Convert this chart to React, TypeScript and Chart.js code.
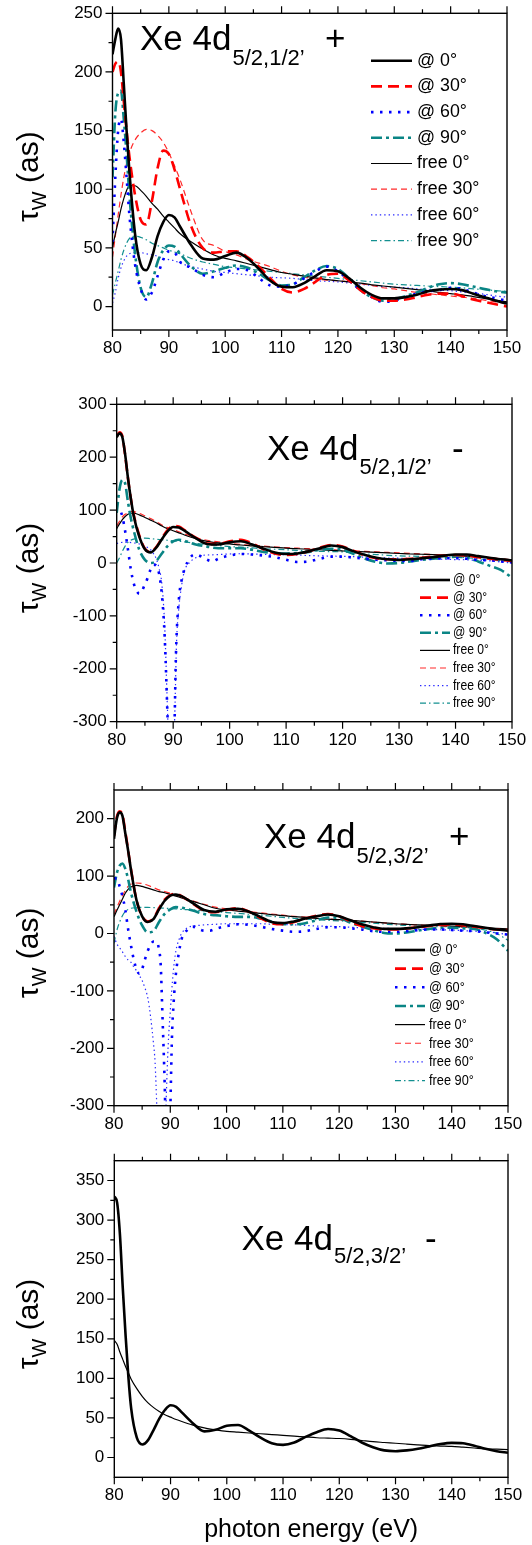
import React, { useEffect, useRef } from 'react';
import { Chart, registerables } from 'chart.js';

Chart.register(...registerables);

const SANS = "'Liberation Sans', Arial, Helvetica, sans-serif";
const NARROW = "'Liberation Sans Narrow', 'Arial Narrow', 'Liberation Sans', Arial, sans-serif";
const PAGE_W = 532;

// ---------- data ----------
// common photon-energy grid (eV)
const E = [80, 80.5, 81, 81.5, 82, 82.5, 83, 84, 85, 86, 87, 88, 89, 90, 91, 92, 94, 96, 98, 100, 102, 104, 106, 108, 110, 112, 114, 116, 118, 120, 122, 124, 126, 128, 130, 132, 134, 136, 138, 140, 142, 144, 146, 148, 150];
const xTickValues = [80, 90, 100, 110, 120, 130, 140, 150];
const xMinorValues = [85, 95, 105, 115, 125, 135, 145];

// panel 1: Xe 4d5/2,1/2', +
const p1At0 = [215, 228, 237, 228, 190, 150, 115, 62, 36, 31, 42, 60, 72, 78, 76, 68, 52, 41, 40, 43, 46, 41, 32, 22, 17, 16.5, 20, 26, 31, 30, 24, 16, 10, 7, 7, 8, 10, 13, 14.5, 15, 14, 11, 8, 5, 2.5];
const p1At30 = [200, 207, 209, 200, 175, 150, 128, 95, 74, 70, 90, 118, 133, 130, 117, 100, 68, 50, 46, 47, 47, 42, 34, 24, 15, 12, 15, 21, 27, 28, 22, 14, 8, 5, 5, 6, 8, 10, 11, 11, 9, 6, 4, 2, 0];
const p1At60 = [55, 110, 150, 160, 140, 110, 78, 36, 15, 6, 12, 26, 40, 47, 46, 38, 33, 27, 25, 29, 32, 31, 24, 18, 17, 19, 24, 30, 34, 30, 22, 14, 8, 4, 5, 8, 11, 13, 14, 16, 15, 12, 9, 7, 5];
const p1At90 = [110, 165, 182, 184, 160, 130, 95, 45, 16, 8, 20, 38, 48, 52, 51, 45, 34, 28, 30, 33, 35, 33, 28, 22, 18, 19, 25, 31, 34.5, 32, 24, 14, 8, 5, 6, 9, 12, 16, 19, 20, 19, 17, 15, 13, 12];
const p1Free0 = [50, 62, 72, 83, 92, 99, 103, 103, 99, 94, 88, 83, 77, 72, 67, 62, 55, 49, 44, 41, 39, 36.5, 34, 31.5, 29, 27.5, 26, 24.5, 23, 22, 21, 20, 18.5, 17.5, 16.5, 15.5, 14.5, 13.5, 12, 11, 10, 8.5, 7, 5.5, 4];
const p1Free30 = [42, 60, 78, 95, 110, 122, 131, 142, 148, 151, 150, 146, 140, 131, 120, 108, 80, 57, 52, 47, 44, 40, 37, 34, 30, 27, 25, 23.5, 22.5, 22, 21, 19.5, 18, 16, 15, 13.5, 12, 11, 10, 9, 8, 7, 5.5, 4, 2.5];
const p1Free60 = [3, 12, 24, 33, 39, 43, 45, 46, 46, 45, 44, 43, 41, 40, 39, 37, 34, 32, 30, 29, 28, 27, 26, 25, 24.5, 24, 23, 22, 21.5, 21, 20, 19, 18, 17, 16.5, 16, 15, 14.5, 14, 13.5, 12.5, 11.5, 10.5, 9, 8];
const p1Free90 = [10, 20, 30, 40, 48, 54, 58, 60, 59, 57, 54, 52, 50, 48, 46.5, 45, 41, 38, 36, 34, 33, 32, 31, 30, 29, 28, 27, 26, 25, 24, 23, 22, 21, 20, 19, 18.5, 18, 17.5, 17, 16.5, 16, 15, 14.5, 13.5, 13];

// panel 2: Xe 4d5/2,1/2', -
const p2At0 = [238, 245, 238, 205, 160, 122, 90, 50, 26, 20, 29, 45, 60, 68, 67, 61, 47, 36, 35, 39, 41, 35, 27, 20, 17, 18, 22, 28, 33, 30, 22, 15, 10, 7, 6, 7, 9, 11, 14, 16, 16, 13, 10, 7, 5];
const p2At30 = [240, 247, 240, 203, 160, 122, 92, 52, 27, 21, 30, 47, 62, 70, 69, 62, 48, 37, 36, 41, 44, 37, 26, 18, 15, 17, 22, 29, 34, 31, 23, 14, 9, 7, 7, 8, 10, 12, 14, 15, 14, 11, 8, 6, 4];
const p2E60 = [80.8, 81, 81.5, 82, 82.5, 83, 83.5, 84, 84.5, 85, 85.5, 86, 86.5, 87, 87.5, 88, 88.5, 89, 89.5, 90, 90.25, 90.5, 91, 91.5, 92, 93, 94, 95, 96, 97, 98, 100, 102, 104, 106, 108, 110, 112, 114, 116, 118, 120, 122, 124, 126, 128, 130, 132, 134, 136, 138, 140, 142, 144, 146, 148, 150];
const p2At60 = [95, 88, 60, 25, -12, -38, -52, -58, -52, -40, -28, -12, -3, -5, -20, -60, -140, -290, -450, -400, -300, -170, -70, -32, -12, 10, 16, 12, 6, 3, 8, 14, 17, 16, 14, 11, 6, 2, 3, 8, 12, 12, 10, 8, 6, 5, 4, 4, 7, 8, 9, 9, 8, 6, 5, 3, 1];
const p2At90 = [95, 140, 157, 150, 115, 85, 62, 25, 6, 0, 4, 18, 32, 41, 44, 42, 35, 31, 28, 28, 28, 25, 21, 19, 18, 19, 21, 25, 27, 25, 17, 8, 2, -1, 0, 3, 6, 8, 10, 12, 10, 3, -5, -13, -28];
const p2Free0 = [65, 74, 82, 88, 92, 94, 94, 91, 86, 81, 76, 70, 65, 61, 57, 53, 46, 41, 38, 36, 34, 32.5, 31, 29.5, 28, 27, 26, 25, 24, 23, 22, 21, 20, 19, 18, 17, 16.5, 16, 15, 14, 13, 12, 10, 8, 6];
const p2Free30 = [70, 79, 87, 92, 95, 97, 97, 94, 89, 84, 78, 72, 67, 63, 59, 55, 48, 43, 40, 37, 35, 33.5, 32, 30.5, 29, 28, 27, 26, 25, 24, 23, 22, 21, 20, 19, 18, 17, 16, 15, 14, 13, 12, 10, 8, 6];
const p2EF60 = [80, 81, 82, 83, 84, 85, 86, 86.5, 87, 87.5, 88, 88.5, 89, 89.5, 90, 90.3, 90.6, 91, 91.5, 92, 93, 94, 95, 96, 98, 100, 102, 104, 106, 108, 110, 112, 114, 116, 118, 120, 122, 124, 126, 128, 130, 132, 134, 136, 138, 140, 142, 144, 146, 148, 150];
const p2Free60 = [37, 39, 39, 38, 36, 32, 25, 18, 8, -10, -40, -120, -280, -420, -380, -280, -150, -85, -42, -15, 2, 10, 14, 15, 16, 17, 17.5, 17, 16.5, 16, 15.5, 15, 14, 13.5, 13, 12.5, 12, 11, 10, 9.5, 9, 8.5, 8, 7.5, 7, 6.5, 6, 5, 4, 2, 0];
const p2Free90 = [0, 10, 22, 32, 39, 43, 45, 47, 47, 46, 45, 44, 43, 42, 41, 40, 37, 35, 33, 31, 30, 28.5, 27, 26, 25, 24, 23, 22, 21.5, 21, 19, 17, 16, 14.5, 13.5, 13, 12.5, 12, 11.5, 11, 10, 8, 6, 4, 2];

// panel 3: Xe 4d5/2,3/2', +
const p3At0 = [165, 200, 211, 205, 175, 145, 112, 58, 30, 20, 25, 42, 57, 66, 68, 65, 53, 41, 38, 42, 43, 38, 29, 20, 18, 21, 26, 30, 33, 30, 23, 16, 11, 8, 8, 9, 11, 14, 16.5, 17, 16, 13, 10, 7, 5];
const p3At30 = [170, 203, 213, 207, 178, 146, 113, 58, 30, 21, 26, 44, 59, 67, 69, 65, 52, 40, 37, 41, 44, 38, 27, 18, 16, 20, 26, 31, 34, 30, 21, 13, 9, 7, 7, 9, 11, 13, 15, 16, 14, 12, 9, 7, 6];
const p3E60 = [80, 80.5, 81, 81.5, 82, 82.5, 83, 83.5, 84, 84.5, 85, 85.5, 86, 86.5, 87, 87.5, 88, 88.3, 88.6, 89, 89.3, 89.7, 90, 90.3, 90.6, 91, 91.5, 92, 93, 94, 95, 96, 97, 98, 100, 102, 104, 106, 108, 110, 112, 114, 116, 118, 120, 122, 124, 126, 128, 130, 132, 134, 136, 138, 140, 142, 144, 146, 148, 150];
const p3At60 = [96, 96, 82, 65, 42, 8, -20, -45, -62, -70, -62, -45, -30, -20, -14, -14, -28, -55, -140, -260, -380, -430, -310, -180, -120, -70, -35, -10, 6, 12, 8, 5, 5, 8, 13, 16, 15, 12, 8, 5, 3, 4, 8, 11, 11, 9, 7, 4, 3, 3, 4, 6, 7, 7, 6, 5, 4, 2, 0, -2];
const p3At90 = [80, 105, 118, 122, 113, 95, 72, 38, 14, 2, 4, 20, 34, 42, 46, 45, 40, 34, 32, 30, 29, 29, 26, 21, 16, 16, 18, 23, 28, 27, 19, 12, 6, 1, 0, 2, 5, 8, 10, 10, 9, 8, 1, -10, -30];
const p3Free0 = [29, 40, 50, 60, 70, 77, 81, 84, 82, 79, 76, 73, 71, 68, 65, 62, 56, 50, 44, 41, 39, 37, 35, 33, 31, 29.5, 28, 26.5, 25, 24, 23, 21.5, 20, 18.5, 17, 16, 15, 14.5, 14, 13, 12, 11, 10, 9, 8];
const p3Free30 = [33, 45, 56, 66, 75, 82, 86, 88, 87, 84, 80, 76, 73, 70, 67, 64, 57, 51, 46, 43, 40, 38, 36, 34, 32, 30, 28.5, 27, 25.5, 24, 23, 21.5, 20, 18.5, 17, 16, 15, 14, 13, 12, 11, 10, 9, 8, 7];
const p3EF60 = [80, 80.5, 81, 81.5, 82, 82.5, 83, 83.5, 84, 84.5, 85, 85.5, 86, 86.5, 87, 87.3, 87.6, 88, 88.5, 89, 89.3, 89.6, 90, 90.5, 91, 91.5, 92, 93, 94, 95, 96, 98, 100, 102, 104, 106, 108, 110, 112, 114, 116, 118, 120, 122, 124, 126, 128, 130, 132, 134, 136, 138, 140, 142, 144, 146, 148, 150];
const p3Free60 = [-5, -18, -25, -32, -40, -46, -50, -58, -65, -73, -82, -95, -112, -145, -190, -225, -300, -420, -450, -380, -280, -200, -135, -70, -30, -12, 0, 10, 13, 14, 15, 16, 17, 17, 17, 17, 16, 15.5, 15, 14, 13, 12.5, 12, 11, 10, 9.5, 9, 8.5, 8, 7.5, 7, 6.5, 6, 5, 4, 3, 1, -2];
const p3Free90 = [-17, 5, 20, 31, 38, 42, 44, 45, 45.5, 45.5, 45, 44.5, 44, 43.5, 43, 42, 41, 39.5, 38, 36.5, 35, 33.5, 32, 30, 28, 26.5, 25, 24, 23, 22, 21, 19.5, 18, 16.5, 15, 14, 13, 12.5, 12, 11.5, 10.5, 9, 6, 0, -12];

// panel 4: Xe 4d5/2,3/2', -
const p4At0 = [330, 322, 282, 215, 155, 102, 62, 25, 16.5, 22, 35, 49, 60, 66, 64, 57, 43, 33, 35, 40, 41, 34, 25, 18, 16, 19, 26, 32, 36, 34, 27, 19, 13, 9, 8, 9, 11, 14, 17, 18.5, 18, 15, 11, 8, 6];
const p4Free0 = [148, 143, 133, 124, 115, 107, 99, 87, 77, 69, 63, 58, 54, 51, 48, 45.5, 41, 37.5, 35, 33, 32, 31, 30, 29, 28, 27, 26, 25, 24.5, 24, 23, 21.5, 20, 19, 18, 17, 16, 15, 14.5, 14, 13, 12, 11, 10.5, 10];

// y ticks
const yTicksP1 = [0, 50, 100, 150, 200, 250];
const yMinorP1 = [25, 75, 125, 175, 225];
const yTicksP2 = [-300, -200, -100, 0, 100, 200, 300];
const yMinorP2 = [-250, -150, -50, 50, 150, 250];
const yTicksP3 = [-300, -200, -100, 0, 100, 200];
const yMinorP3 = [-250, -150, -50, 50, 150];
const yTicksP4 = [0, 50, 100, 150, 200, 250, 300, 350];
const yMinorP4 = [25, 75, 125, 175, 225, 275, 325];

const seriesLabels = ['@ 0°', '@ 30°', '@ 60°', '@ 90°', 'free 0°', 'free 30°', 'free 60°', 'free 90°'];

// ---------- styles ----------
const STY: any = {
  at0: { color: '#000000', width: 2.6, dash: [] },
  at30: { color: '#ff0000', width: 2.6, dash: [11, 6] },
  at60: { color: '#0000ff', width: 2.6, dash: [2.5, 6.5] },
  at90: { color: '#0a8585', width: 2.6, dash: [11, 4, 3, 4] },
  free0: { color: '#000000', width: 1.2, dash: [] },
  free30: { color: '#ff2a2a', width: 1.2, dash: [6, 4] },
  free60: { color: '#2a2aff', width: 1.2, dash: [1.4, 3] },
  free90: { color: '#139090', width: 1.2, dash: [6, 3, 1.5, 3] },
};
const styleKeys = ['at0', 'at30', 'at60', 'at90', 'free0', 'free30', 'free60', 'free90'];

function eight(xs: any[], ys: any[]) {
  return ys.map((y, i) => ({ label: seriesLabels[i], sty: styleKeys[i], x: xs[i], y }));
}

const PANELS: any[] = [
  {
    id: 1, top: 0, height: 370,
    area: { l: 112.5, r: 507, t: 13.3, b: 330 },
    yMin: -20, yMax: 250, yTicks: yTicksP1, yMinor: yMinorP1,
    series: eight([E, E, E, E, E, E, E, E], [p1At0, p1At30, p1At60, p1At90, p1Free0, p1Free30, p1Free60, p1Free90]),
    title: { x: 140, y: 50, sub: '5/2,1/2’', subDy: 15, tail: '+', tailX: 325 },
    legend: { x0: 371, x1: 412, tx: 417, y0: 60.7, dy: 25.7, size: 18, family: SANS, ref: 40 },
  },
  {
    id: 2, top: 370, height: 390,
    area: { l: 116.7, r: 512, t: 34.3, b: 351.7 },
    yMin: -300, yMax: 300, yTicks: yTicksP2, yMinor: yMinorP2,
    series: eight([E, E, p2E60, E, E, E, p2EF60, E], [p2At0, p2At30, p2At60, p2At90, p2Free0, p2Free30, p2Free60, p2Free90]),
    title: { x: 267, y: 90, sub: '5/2,1/2’', subDy: 14, tail: '-', tailX: 452 },
    legend: { x0: 420, x1: 450, tx: 453, y0: 210, dy: 17.6, size: 14.5, family: NARROW, ref: 27.3 },
  },
  {
    id: 3, top: 760, height: 390,
    area: { l: 114, r: 508, t: 30, b: 345.7 },
    yMin: -300, yMax: 250, yTicks: yTicksP3, yMinor: yMinorP3,
    series: eight([E, E, p3E60, E, E, E, p3EF60, E], [p3At0, p3At30, p3At60, p3At90, p3Free0, p3Free30, p3Free60, p3Free90]),
    title: { x: 264, y: 88, sub: '5/2,3/2’', subDy: 14.7, tail: '+', tailX: 449 },
    legend: { x0: 395, x1: 425, tx: 429, y0: 190, dy: 18.65, size: 15.5, family: NARROW, ref: 28.7 },
  },
  {
    id: 4, top: 1150, height: 395,
    area: { l: 114.3, r: 508, t: 10.7, b: 327.3 },
    yMin: -25, yMax: 375, yTicks: yTicksP4, yMinor: yMinorP4,
    series: [
      { label: '@ 0°', sty: 'at0', x: E, y: p4At0 },
      { label: 'free 0°', sty: 'free0', x: E, y: p4Free0 },
    ],
    title: { x: 241.5, y: 100, sub: '5/2,3/2’', subDy: 13, tail: '-', tailX: 425 },
    xTitle: 'photon energy (eV)',
  },
];

function decorPlugin(p: any) {
  return {
    id: 'decor' + p.id,
    afterDraw(chart: any) {
      const { ctx, chartArea: a, scales } = chart;
      const xs = scales.x;
      const ys = scales.y;
      ctx.save();
      // frame
      ctx.setLineDash([]);
      ctx.strokeStyle = '#000';
      ctx.lineWidth = 1.4;
      ctx.strokeRect(a.left, a.top, a.right - a.left, a.bottom - a.top);
      // tick marks (outward)
      ctx.lineWidth = 1.2;
      ctx.beginPath();
      const xMark = (v: number, L: number) => {
        const px = xs.getPixelForValue(v);
        ctx.moveTo(px, a.bottom); ctx.lineTo(px, a.bottom + L);
        ctx.moveTo(px, a.top); ctx.lineTo(px, a.top - L);
      };
      xTickValues.forEach((v) => xMark(v, 7));
      xMinorValues.forEach((v) => xMark(v, 4));
      const yMark = (v: number, L: number) => {
        const py = ys.getPixelForValue(v);
        ctx.moveTo(a.left - L, py); ctx.lineTo(a.left, py);
      };
      p.yTicks.forEach((v: number) => yMark(v, 7));
      p.yMinor.forEach((v: number) => yMark(v, 4));
      ctx.stroke();

      // legend
      if (p.legend) {
        const L = p.legend;
        ctx.font = `${L.size}px ${L.family}`;
        const wRef = ctx.measureText('@ 0°').width;
        const sx = Math.min(1, L.ref / wRef);
        chart.data.datasets.forEach((ds: any, i: number) => {
          const y = L.y0 + i * L.dy;
          ctx.strokeStyle = ds.borderColor;
          ctx.lineWidth = ds.borderWidth;
          ctx.setLineDash(ds.borderDash || []);
          ctx.beginPath();
          ctx.moveTo(L.x0, y);
          ctx.lineTo(L.x1, y);
          ctx.stroke();
          ctx.setLineDash([]);
          ctx.fillStyle = '#000';
          ctx.textBaseline = 'middle';
          ctx.textAlign = 'left';
          ctx.save();
          ctx.translate(L.tx, y);
          ctx.scale(sx, 1);
          ctx.font = `${L.size}px ${L.family}`;
          ctx.fillText(ds.label, 0, 0);
          ctx.restore();
        });
      }

      // panel title
      const T = p.title;
      ctx.fillStyle = '#000';
      ctx.textBaseline = 'alphabetic';
      ctx.textAlign = 'left';
      ctx.font = `35px ${SANS}`;
      ctx.fillText('Xe 4d', T.x, T.y);
      const wMain = ctx.measureText('Xe 4d').width;
      ctx.font = `22px ${SANS}`;
      ctx.fillText(T.sub, T.x + wMain + 1, T.y + T.subDy);
      ctx.font = `35px ${SANS}`;
      ctx.fillText(T.tail, T.tailX, T.y);

      // y-axis title with subscript
      const cy = (a.top + a.bottom) / 2 + 5;
      ctx.save();
      ctx.translate(38, cy);
      ctx.rotate(-Math.PI / 2);
      ctx.font = `30px ${SANS}`;
      const w1 = ctx.measureText('τ').width;
      const w3 = ctx.measureText(' (as)').width;
      ctx.font = `20px ${SANS}`;
      const w2 = ctx.measureText('W').width;
      const x0 = -(w1 + w2 + w3) / 2;
      ctx.font = `30px ${SANS}`;
      ctx.fillText('τ', x0, 0);
      ctx.font = `20px ${SANS}`;
      ctx.fillText('W', x0 + w1, 8);
      ctx.font = `30px ${SANS}`;
      ctx.fillText(' (as)', x0 + w1 + w2, 0);
      ctx.restore();

      ctx.restore();
    },
  };
}

function buildConfig(p: any): any {
  const datasets = p.series.map((s: any) => ({
    label: s.label,
    data: s.x.map((x: number, i: number) => ({ x, y: s.y[i] })),
    borderColor: STY[s.sty].color,
    borderWidth: STY[s.sty].width,
    borderDash: STY[s.sty].dash,
    pointRadius: 0,
    fill: false,
    cubicInterpolationMode: 'monotone',
  }));
  const a = p.area;
  const H = p.height;
  return {
    type: 'line',
    data: { datasets },
    plugins: [decorPlugin(p)],
    options: {
      responsive: false,
      animation: false,
      devicePixelRatio: 1,
      events: [],
      layout: { padding: { left: 0, right: PAGE_W - a.r, top: a.t, bottom: 0 } },
      plugins: { legend: { display: false }, tooltip: { enabled: false }, title: { display: false } },
      scales: {
        x: {
          type: 'linear',
          min: 80,
          max: 150,
          grid: { display: false, drawTicks: false },
          border: { display: false },
          ticks: { font: { family: SANS, size: 17 }, color: '#000', padding: 8, autoSkip: false, maxRotation: 0 },
          afterBuildTicks: (s: any) => { s.ticks = xTickValues.map((v) => ({ value: v })); },
          afterFit: (s: any) => { s.height = H - a.b; s.paddingLeft = 0; s.paddingRight = 0; },
          title: p.xTitle
            ? { display: true, text: p.xTitle, font: { family: SANS, size: 25 }, color: '#000', padding: { top: 0, bottom: 0 } }
            : { display: false },
        },
        y: {
          type: 'linear',
          min: p.yMin,
          max: p.yMax,
          grid: { display: false, drawTicks: false },
          border: { display: false },
          ticks: { font: { family: SANS, size: 17 }, color: '#000', padding: 10, autoSkip: false },
          afterBuildTicks: (s: any) => { s.ticks = p.yTicks.map((v: number) => ({ value: v })); },
          afterFit: (s: any) => { s.width = a.l; s.paddingTop = 0; s.paddingBottom = 0; },
        },
      },
    },
  };
}

function Panel({ p }: { p: any }) {
  const ref = useRef<HTMLCanvasElement>(null);
  useEffect(() => {
    const chart = new Chart(ref.current as HTMLCanvasElement, buildConfig(p));
    return () => chart.destroy();
  }, [p]);
  return (
    <canvas
      ref={ref}
      width={PAGE_W}
      height={p.height}
      style={{ position: 'absolute', left: 0, top: p.top, width: PAGE_W, height: p.height, display: 'block' }}
    />
  );
}

export default function App() {
  return (
    <div style={{ position: 'absolute', left: 0, top: 0, width: PAGE_W, height: 1545, background: '#ffffff', overflow: 'hidden' }}>
      {PANELS.map((p) => (
        <Panel key={p.id} p={p} />
      ))}
    </div>
  );
}
